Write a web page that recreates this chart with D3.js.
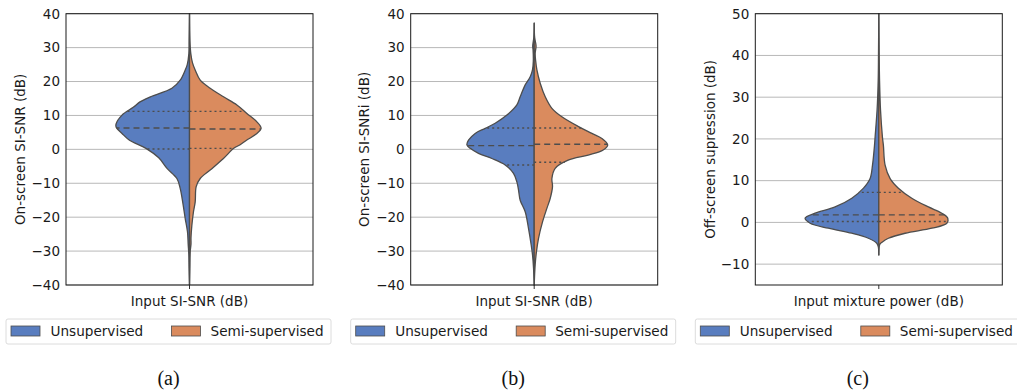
<!DOCTYPE html>
<html>
<head>
<meta charset="utf-8">
<script src="https://cdn.jsdelivr.net/npm/d3@7"></script>
<style>
  body { margin: 0; background: #fff; }
  text { font-family: "DejaVu Sans", sans-serif; }
</style>
</head>
<body>
<svg id="chart" width="1017" height="390"></svg>
<script>
// groups
var groups = ["Unsupervised", "Semi-supervised"];
var captions = ["(a)", "(b)", "(c)"];

// tick labels
var snrTicks = [-40, -30, -20, -10, 0, 10, 20, 30, 40];
var supTicks = [-10, 0, 10, 20, 30, 40, 50];

// violin profiles: [value (dB), relative density]
var onSnrUnsup = [[40, 0], [32, 0.005], [28.3, 0.008], [25, 0.03], [23.4, 0.057], [20.4, 0.124], [18, 0.235],
  [15.5, 0.52], [14, 0.66], [12.4, 0.75], [10.1, 0.9], [7.4, 0.98], [6.4, 0.975], [4.7, 0.9], [2.7, 0.8],
  [0.3, 0.58], [-2.5, 0.41], [-5.6, 0.3], [-8.6, 0.168], [-11.5, 0.124], [-15.9, 0.088], [-20.4, 0.057],
  [-24.3, 0.027], [-28.2, 0.017], [-31, 0.009], [-35, 0.006], [-40, 0]];
var onSnrSemi = [[40, 0], [32, 0.006], [28.3, 0.017], [25.5, 0.04], [23.4, 0.076], [20.4, 0.143], [18, 0.276],
  [15.5, 0.453], [13.1, 0.632], [10.6, 0.765], [8.1, 0.899], [6.2, 0.955], [4.5, 0.89], [2.7, 0.76],
  [1.3, 0.67], [0.3, 0.59], [-2.7, 0.453], [-6.1, 0.276], [-8.6, 0.143], [-11, 0.089], [-15.5, 0.076],
  [-18.4, 0.053], [-22.5, 0.031], [-26, 0.02], [-28, 0.02], [-30, 0.01], [-35, 0.005], [-40, 0]];

var onSnriUnsup = [[37.2, 0], [33, 0.005], [30.5, 0.02], [29.3, 0.015], [26, 0.012], [23.4, 0.023], [21.4, 0.053],
  [19, 0.12], [15.5, 0.187], [13.1, 0.231], [10.1, 0.364], [7.7, 0.52], [6.2, 0.653], [4.7, 0.787], [2.7, 0.876],
  [1.3, 0.897], [0.3, 0.853], [-1.2, 0.743], [-2.7, 0.564], [-4.6, 0.387], [-7.1, 0.276], [-9.6, 0.231],
  [-12, 0.209], [-15, 0.187], [-18.4, 0.12], [-23.3, 0.076], [-28.2, 0.04], [-31, 0.023], [-35, 0.009], [-40, 0]];
var onSnriSemi = [[37.2, 0], [33, 0.006], [30.5, 0.025], [28.3, 0.013], [26, 0.02], [23.4, 0.036], [19.5, 0.08],
  [15.5, 0.147], [12.1, 0.236], [9.6, 0.369], [6.7, 0.591], [4.7, 0.769], [3.2, 0.903], [1.3, 0.98],
  [-0.2, 0.92], [-1.7, 0.72], [-3.2, 0.453], [-5.6, 0.28], [-8.6, 0.236], [-11, 0.244], [-14.5, 0.213],
  [-17.4, 0.169], [-21.4, 0.111], [-26.3, 0.057], [-30, 0.031], [-34, 0.013], [-40, 0]];

var offSupUnsup = [[50, 0], [40, 0.004], [34, 0.008], [26.9, 0.023], [20.5, 0.049], [18.5, 0.057], [13.7, 0.084],
  [10.5, 0.116], [8.2, 0.204], [5.8, 0.36], [3.7, 0.583], [2.2, 0.849], [1, 0.983], [-0.2, 0.916],
  [-1.4, 0.672], [-2.6, 0.36], [-3.8, 0.139], [-5, 0.027], [-5.8, 0.007], [-7.8, 0]];
var offSupSemi = [[50, 0], [40, 0.005], [34, 0.01], [26.9, 0.023], [20.5, 0.048], [18.5, 0.061], [13.7, 0.084],
  [10.5, 0.151], [8.2, 0.261], [5.8, 0.44], [3.7, 0.661], [2.2, 0.84], [1, 0.92], [-0.2, 0.907],
  [-1.4, 0.707], [-2.6, 0.351], [-3.8, 0.128], [-4.7, 0.048], [-5.3, 0.013], [-7.8, 0]];

// quartiles [q1, median, q3] per group
var onSnrQuart = [[0.1, 6.3, 11.2], [0.3, 6.0, 11.2]];
var onSnriQuart = [[-4.6, 1.1, 6.3], [-3.8, 1.5, 6.3]];
var offSupQuart = [[0.2, 1.8, 7.2], [0.2, 1.8, 7.2]];

var panels = [
  {yLabel: "On-screen SI-SNR (dB)", xLabel: "Input SI-SNR (dB)", domain: [-40, 40], ticks: snrTicks,
   halves: [onSnrUnsup, onSnrSemi], quart: onSnrQuart},
  {yLabel: "On-screen SI-SNRi (dB)", xLabel: "Input SI-SNR (dB)", domain: [-40, 40], ticks: snrTicks,
   halves: [onSnriUnsup, onSnriSemi], quart: onSnriQuart},
  {yLabel: "Off-screen supression (dB)", xLabel: "Input mixture power (dB)", domain: [-15, 50], ticks: supTicks,
   halves: [offSupUnsup, offSupSemi], quart: offSupQuart}
];

var colors = ["#597dbf", "#da8b5e"];
var edge = "#4d4d4d";

var plotW = 247, plotH = 271.3, plotTop = 13.7;
var lefts = [66, 410.7, 755.3];

var svg = d3.select("#chart");
var w = d3.scaleLinear().domain([0, 1]).range([0, 75]);

function densityAt(profile, v) {
  for (var i = 0; i < profile.length - 1; i++) {
    var a = profile[i], b = profile[i + 1];
    if (v <= a[0] && v >= b[0]) {
      var t = (a[0] - v) / (a[0] - b[0]);
      return a[1] + t * (b[1] - a[1]);
    }
  }
  return 0;
}

function fmt(d) { return d < 0 ? "\u2212" + (-d) : "" + d; }

panels.forEach(function(p, pi) {
  var g = svg.append("g").attr("transform", "translate(" + lefts[pi] + "," + plotTop + ")");

  var y = d3.scaleLinear().domain(p.domain).range([plotH, 0]);
  var x = d3.scaleBand().domain([p.xLabel]).range([0, plotW]);
  var cx = x(p.xLabel) + x.bandwidth() / 2;

  // grid
  g.append("g").selectAll("line")
    .data(p.ticks)
    .join("line")
    .attr("x1", 0).attr("x2", plotW)
    .attr("y1", function(d) { return y(d); })
    .attr("y2", function(d) { return y(d); })
    .attr("stroke", "#b8b8b8")
    .attr("stroke-width", 1);

  // violin halves
  p.halves.forEach(function(prof, hi) {
    var sign = hi === 0 ? -1 : 1;
    var area = d3.area()
      .y(function(d) { return y(d[0]); })
      .x0(cx)
      .x1(function(d) { return cx + sign * w(d[1]); })
      .curve(d3.curveCatmullRom);
    g.append("path")
      .datum(prof)
      .attr("d", area)
      .attr("fill", colors[hi])
      .attr("stroke", edge)
      .attr("stroke-width", 1.3)
      .attr("stroke-linejoin", "round");

    p.quart[hi].forEach(function(q, qi) {
      g.append("line")
        .attr("x1", cx)
        .attr("x2", cx + sign * w(densityAt(prof, q)))
        .attr("y1", y(q)).attr("y2", y(q))
        .attr("stroke", edge)
        .attr("stroke-width", 1.4)
        .attr("stroke-dasharray", qi === 1 ? "6,4" : "2,3");
    });
  });

  // axes
  var yAxis = g.append("g")
    .call(d3.axisLeft(y).tickValues(p.ticks).tickSize(0).tickPadding(6).tickFormat(fmt));
  yAxis.select(".domain").remove();
  yAxis.selectAll("text").attr("font-size", 13.5).attr("fill", "#1a1a1a").style("font-family", "DejaVu Sans");

  var xAxis = g.append("g")
    .attr("transform", "translate(0," + plotH + ")")
    .call(d3.axisBottom(x).tickSize(4).tickSizeOuter(0).tickPadding(7));
  xAxis.select(".domain").remove();
  xAxis.selectAll("line").attr("stroke", "#333");
  xAxis.selectAll("text").attr("font-size", 13.5).attr("fill", "#1a1a1a").style("font-family", "DejaVu Sans");

  g.append("rect")
    .attr("width", plotW).attr("height", plotH)
    .attr("fill", "none")
    .attr("stroke", "#1a1a1a")
    .attr("stroke-width", 1);

  g.append("text")
    .attr("text-anchor", "middle")
    .attr("transform", "translate(" + (pi === 2 ? -45 : -46) + "," + (plotH / 2) + ") rotate(-90)")
    .attr("dy", "0.35em")
    .attr("font-size", 13.5)
    .attr("fill", "#1a1a1a")
    .text(p.yLabel);

  // legend
  var lg = g.append("g").attr("transform", "translate(-60," + (319 - plotTop) + ")");
  lg.append("rect")
    .attr("width", 325).attr("height", 25).attr("rx", 2)
    .attr("fill", "#fff").attr("stroke", "#dcdcdc");
  groups.forEach(function(name, i) {
    lg.append("rect")
      .attr("x", 5 + i * 160.5).attr("y", 7)
      .attr("width", 29).attr("height", 10)
      .attr("fill", colors[i]).attr("stroke", edge).attr("stroke-width", 0.8);
    lg.append("text")
      .attr("x", 44.5 + i * 160).attr("y", 16.5)
      .attr("font-size", 13.6)
      .attr("fill", "#1a1a1a")
      .text(name);
  });

  // caption
  svg.append("text")
    .attr("x", lefts[pi] + plotW / 2 - 21)
    .attr("y", 385)
    .attr("text-anchor", "middle")
    .style("font-family", "Liberation Serif, serif")
    .attr("font-size", 20)
    .attr("fill", "#111")
    .text(captions[pi]);
});
</script>
</body>
</html>
